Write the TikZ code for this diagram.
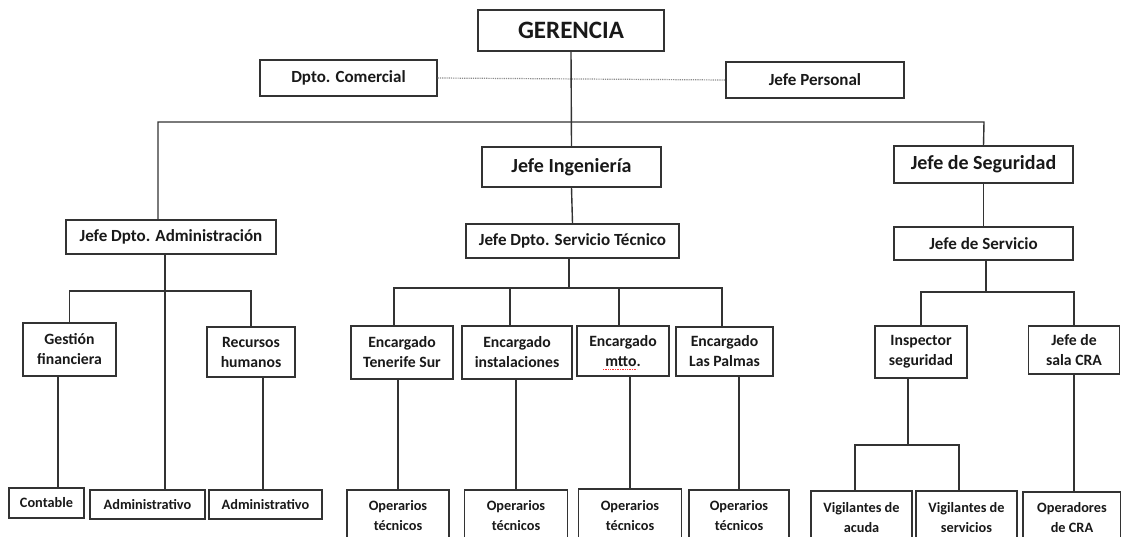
\documentclass[tikz,border=0pt]{standalone}
\usepackage{fontspec}
\setmainfont{Carlito}
\begin{document}
\begin{tikzpicture}[x=1pt,y=-1pt,
  box/.style={draw=black!80, line width=1.4pt, inner sep=0pt, align=center, text=black!90, font=\bfseries},
  ln/.style={draw=black!80, line width=1.4pt},
  dotln/.style={draw=black!45, line width=1.2pt, densely dotted},
  spell/.style={draw=red!80, line width=0.7pt, densely dotted},
  fA/.style={font=\bfseries\fontsize{25}{28}\selectfont},
  fB/.style={font=\bfseries\fontsize{20}{23}\selectfont},
  fC/.style={font=\bfseries\fontsize{17}{20}\selectfont},
  fD/.style={font=\bfseries\fontsize{15.7}{20}\selectfont},
  fE/.style={font=\bfseries\fontsize{14.3}{19.3}\selectfont}
]
\useasboundingbox (0,0) rectangle (1121,536);
\fill[white] (0,0) rectangle (1121,536);
\clip (0,0) rectangle (1121,536);

% top level
\node[box,fA,minimum width=186pt,minimum height=41pt] (ger) at (571,30.5) {GERENCIA};
\node[box,fC,minimum width=177pt,minimum height=36pt] (com) at (348.5,78) {Dpto. Comercial};
\node[box,fC,minimum width=178pt,minimum height=36pt] (per) at (815,80) {Jefe Personal};

% second level
\node[box,fB,minimum width=179pt,minimum height=40pt] (ing) at (571.5,167) {Jefe Ingeniería};
\node[box,fB,minimum width=179pt,minimum height=37pt] (seg) at (983.5,164.5) {Jefe de Seguridad};
\node[box,fC,minimum width=210pt,minimum height=34pt] (adm) at (171,237) {Jefe Dpto. Administración};
\node[box,fC,minimum width=213pt,minimum height=34pt] (tec) at (572.5,241) {Jefe Dpto. Servicio Técnico};
\node[box,fC,minimum width=179pt,minimum height=33pt] (ser) at (983.5,243.5) {Jefe de Servicio};

% third level
\node[box,fD,minimum width=93pt,minimum height=53pt] (gf) at (69.5,349.5) {Gestión\\financiera};
\node[box,fD,minimum width=88pt,minimum height=50pt] (rh) at (251,352) {Recursos\\humanos};
\node[box,fD,minimum width=102pt,minimum height=53pt] (e1) at (402,352.5) {Encargado\\Tenerife Sur};
\node[box,fD,minimum width=110pt,minimum height=53pt] (e2) at (517,352.5) {Encargado\\instalaciones};
\node[box,fD,minimum width=92pt,minimum height=50pt] (e3) at (623,351) {Encargado\\mtto.};
\node[box,fD,minimum width=97pt,minimum height=49pt] (e4) at (724.5,351.5) {Encargado\\Las Palmas};
\node[box,fD,minimum width=92pt,minimum height=52pt] (ins) at (921,352) {Inspector\\seguridad};
\node[box,fD,minimum width=91pt,minimum height=48pt] (cra) at (1074,350) {Jefe de\\sala CRA};

% bottom level
\node[box,fE,minimum width=75pt,minimum height=30pt] (con) at (46.5,503) {Contable};
\node[box,fE,minimum width=115pt,minimum height=29pt] (ad1) at (147.5,504.5) {Administrativo};
\node[box,fE,minimum width=113pt,minimum height=29pt] (ad2) at (265.5,504.5) {Administrativo};
\node[box,fE,minimum width=102pt,minimum height=51pt] (o1) at (398,515.5) {Operarios\\técnicos};
\node[box,fE,minimum width=103pt,minimum height=51pt] (o2) at (516,515.5) {Operarios\\técnicos};
\node[box,fE,minimum width=103pt,minimum height=53pt] (o3) at (630,515.5) {Operarios\\técnicos};
\node[box,fE,minimum width=100pt,minimum height=51pt] (o4) at (739,515.5) {Operarios\\técnicos};
\node[box,fE,minimum width=101pt,minimum height=53pt] (v1) at (861.5,517.5) {Vigilantes de\\acuda};
\node[box,fE,minimum width=101pt,minimum height=53pt] (v2) at (966.5,517.5) {Vigilantes de\\servicios};
\node[box,fE,minimum width=98pt,minimum height=51pt] (op) at (1072,517.5) {Operadores\\de CRA};

% spell-check underline
\draw[spell] ([xshift=-20pt,yshift=-18pt]e3.center) -- ++(34,0);

% coordinates
\coordinate (bl) at (158,122);
\coordinate (br) at (984,122);
\coordinate (ab) at (165,291);
\coordinate (gc) at (58,0);
\coordinate (rc) at (263,0);
\coordinate (tb) at (569,288);
\coordinate (t1) at (394,288);
\coordinate (t2) at (510,288);
\coordinate (t3) at (619,288);
\coordinate (t4) at (722,288);
\coordinate (sb) at (986,292);
\coordinate (ib) at (908,445);
\coordinate (il) at (855,445);
\coordinate (ir) at (959,445);

% connectors
\draw[dotln] (com.east) -- (per.west);
\draw[ln] (ger.south) -- (ing.north);
\draw[ln] (bl |- adm.north) -- (bl) -- (br) -- (seg.north);
\draw[ln] (seg.south) -- (ser.north);
\draw[ln] (ing.south) -- (tec.north);

\draw[ln] (adm.south -| ab) -- (ad1.north -| ab);
\draw[ln] (gf.north) |- (ab) -| (rh.north);
\draw[ln] (gf.south -| gc) -- (con.north -| gc);
\draw[ln] (rh.south -| rc) -- (ad2.north -| rc);

\draw[ln] (tec.south -| tb) -- (tb);
\draw[ln] (t1 |- e1.north) -- (t1) -- (t4) -- (t4 |- e4.north);
\draw[ln] (t2) -- (t2 |- e2.north);
\draw[ln] (t3) -- (t3 |- e3.north);
\draw[ln] (e1.south -| o1.north) -- (o1.north);
\draw[ln] (e2.south -| o2.north) -- (o2.north);
\draw[ln] (e3.south -| o3.north) -- (o3.north);
\draw[ln] (e4.south -| o4.north) -- (o4.north);

\draw[ln] (ser.south -| sb) -- (sb);
\draw[ln] (ins.north) |- (sb) -| (cra.north);
\draw[ln] (ins.south -| ib) -- (ib);
\draw[ln] (il |- v1.north) -- (il) -- (ir) -- (ir |- v2.north);
\draw[ln] (cra.south) -- (cra.south |- op.north);
\end{tikzpicture}
\end{document}
